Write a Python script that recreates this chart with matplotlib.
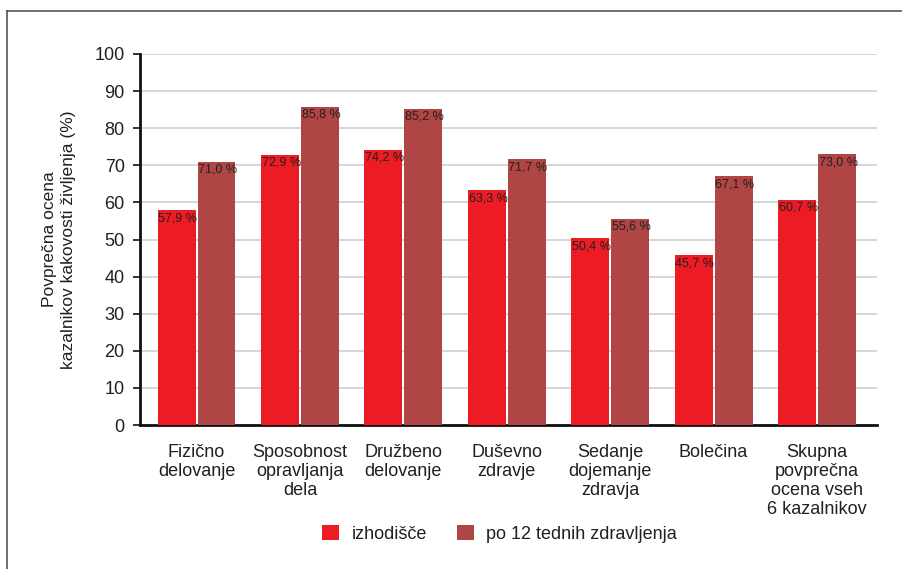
import matplotlib
matplotlib.use("Agg")
import matplotlib.pyplot as plt
import numpy as np
from matplotlib.lines import Line2D

categories = ["Fizično\ndelovanje", "Sposobnost\nopravljanja\ndela", "Družbeno\ndelovanje",
              "Duševno\nzdravje", "Sedanje\ndojemanje\nzdravja", "Bolečina",
              "Skupna\npovprečna\nocena vseh\n6 kazalnikov"]
baseline = [57.9, 72.9, 74.2, 63.3, 50.4, 45.7, 60.7]
after12 = [71.0, 85.8, 85.2, 71.7, 55.6, 67.1, 73.0]
series_names = ["izhodišče", "po 12 tednih zdravljenja"]
yticks = [0, 10, 20, 30, 40, 50, 60, 70, 80, 90, 100]
ylabel = "Povprečna ocena\nkazalnikov kakovosti življenja (%)"

RED = "#ED1C24"
DARK = "#B04545"
TXT = "#231F20"

plt.rcParams['font.family'] = ['Liberation Sans', 'DejaVu Sans']

fig = plt.figure(figsize=(9.02, 5.69), dpi=100)
ax = fig.add_axes([140/902, 1-425/569, 737/902, (425-54)/569])

x = np.arange(len(categories))
w = 0.367
off = 0.193
b1 = ax.bar(x - off, baseline, w, color=RED, zorder=3, label=series_names[0])
b2 = ax.bar(x + off, after12, w, color=DARK, zorder=3, label=series_names[1])

for bars, vals in ((b1, baseline), (b2, after12)):
    for r, v in zip(bars, vals):
        ax.annotate(f"{v:.1f} %".replace(".", ","), xy=(r.get_x(), r.get_height()),
                    xytext=(0.5, -1.5), textcoords="offset points",
                    ha="left", va="top", fontsize=9, color=TXT, zorder=4)

ax.set_ylim(0, 100)
ax.set_xlim(-0.547, 6.58)
ax.set_yticks(yticks)
ax.set_yticklabels([str(t) for t in yticks], fontsize=13, color=TXT)
ax.set_xticks(x)
ax.set_xticklabels(categories, fontsize=13, color=TXT, linespacing=1.14, va="top")
ax.tick_params(axis="x", length=0, pad=14)
ax.tick_params(axis="y", length=5, width=1.2, pad=6, color="#111111")
ax.yaxis.grid(True, color="#d0d0d0", lw=1.2, zorder=0)
ax.set_axisbelow(True)
for s in ("top", "right"):
    ax.spines[s].set_visible(False)
ax.spines["left"].set_linewidth(2)
ax.spines["bottom"].set_linewidth(2)
ax.spines["left"].set_color("#111111")
ax.spines["bottom"].set_color("#111111")

ax.set_ylabel(ylabel, fontsize=12.5, color=TXT, linespacing=1.3)
ax.yaxis.set_label_coords(-0.087, 0.5)

fig.legend(handles=[b1, b2], labels=series_names, loc="center", bbox_to_anchor=(0.554, 0.0615),
           ncol=2, frameon=False, fontsize=13, handlelength=0.9, handleheight=0.9,
           handletextpad=0.7, columnspacing=1.7, labelcolor=TXT)

# outer frame (top and left edges)
fig.add_artist(Line2D([7/902, 1.0], [1-11/569, 1-11/569], transform=fig.transFigure, color="#555555", lw=1.2))
fig.add_artist(Line2D([7/902, 7/902], [0, 1-11/569], transform=fig.transFigure, color="#555555", lw=1.2))

fig.savefig("out.png", dpi=100)
